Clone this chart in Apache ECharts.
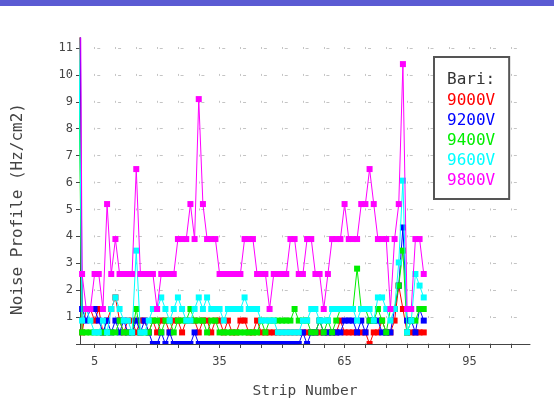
<!DOCTYPE html>
<html>
<head>
<meta charset="utf-8">
<script src="https://cdn.jsdelivr.net/npm/echarts@6/dist/echarts.min.js"></script>
<style>
  html, body { margin: 0; padding: 0; background: #ffffff; }
  #chart { width: 554px; height: 403px; }
</style>
</head>
<body>
<div id="chart"></div>
<script>
// Strip numbers along the detector
const strips = Array.from({ length: 84 }, (_, i) => i + 1);

// Noise rate per strip (Hz/cm2) for each high-voltage setting
const v9000 = [20, 0.43, 1.3, 1.3, 0.87, 1.3, 0.43, 0.87, 1.3, 1.73,
  0.87, 0.43, 0.87, 0.87, 0.43, 0.87, 0.87, 0.43, 0.87, 0.43,
  0.87, 0.87, 0.43, 0.87, 0.87, 0.43, 0.87, 0.87, 0.87, 0.43,
  0.87, 0.87, 0.43, 0.87, 0.87, 0.43, 0.87, 0.43, 0.43, 0.87,
  0.87, 0.43, 0.43, 0.87, 0.43, 0.43, 0.43, 0.43, 0.43, 0.43,
  0.43, 0.43, 0.43, 0.43, 0.43, 0.43, 0.43, 0.43, 0.43, 0.43,
  0.43, 0.43, 0.43, 0.87, 0.43, 0.43, 0.43, 0.43, 0.43, 0.43,
  0, 0.43, 0.43, 0.87, 0.43, 0.43, 0.87, 2.17, 1.3, 0.43,
  0.43, 0.43, 0.43, 0.43];

const v9200 = [26, 1.3, 0.87, 1.3, 1.3, 0.87, 0.43, 0.87, 0.43, 0.87,
  0.43, 0.87, 0.43, 0.43, 0.87, 0.43, 0.87, 0.43, 0, 0,
  0.43, 0, 0.43, 0, 0, 0, 0, 0, 0.43, 0,
  0, 0, 0, 0, 0, 0, 0, 0, 0, 0,
  0, 0, 0, 0, 0, 0, 0, 0, 0, 0,
  0, 0, 0, 0, 0.43, 0, 0.43, 0.43, 0.87, 0.43,
  0.43, 0.43, 0.43, 0.43, 0.87, 0.87, 0.87, 0.43, 0.87, 0.43,
  0.87, 0.87, 0.87, 0.43, 0.43, 0.43, 1.3, 2.17, 4.33, 0.87,
  0.87, 0.43, 1.3, 0.87];

const v9400 = [12.6, 0.43, 0.43, 0.43, 0.43, 0.43, 0.43, 0.43, 0.43, 0.43,
  0.87, 0.43, 0.43, 0.43, 1.3, 0.43, 0.43, 0.43, 0.87, 0.87,
  0.43, 0.87, 0.87, 0.43, 0.87, 0.87, 0.87, 1.3, 0.87, 0.87,
  0.87, 0.43, 0.87, 0.87, 0.43, 0.43, 0.43, 0.43, 0.43, 0.43,
  0.43, 0.43, 0.43, 0.43, 0.87, 0.43, 0.87, 0.87, 0.87, 0.87,
  0.87, 0.87, 1.3, 0.87, 0.87, 0.87, 0.43, 0.43, 0.87, 0.43,
  0.87, 0.43, 0.87, 1.3, 1.3, 1.3, 1.3, 2.8, 1.3, 1.3,
  0.87, 0.87, 1.3, 0.87, 0.43, 1.3, 1.3, 2.17, 3.47, 0.43,
  0.87, 0.87, 1.3, 1.3];

const v9600 = [14.3, 0.87, 1.3, 0.87, 0.43, 0.43, 0.87, 0.43, 1.3, 1.73,
  1.3, 0.87, 0.87, 0.43, 3.47, 0.43, 0.43, 0.87, 1.3, 1.3,
  1.73, 1.3, 0.87, 1.3, 1.73, 1.3, 0.87, 0.87, 1.3, 1.73,
  1.3, 1.73, 1.3, 1.3, 1.3, 0.87, 1.3, 1.3, 1.3, 1.3,
  1.73, 1.3, 1.3, 1.3, 0.87, 0.87, 0.87, 0.87, 0.43, 0.43,
  0.43, 0.43, 0.43, 0.43, 0.87, 0.87, 1.3, 1.3, 0.87, 0.87,
  0.87, 1.3, 1.3, 1.3, 1.3, 1.3, 1.3, 0.87, 1.3, 1.3,
  1.3, 0.87, 1.73, 1.73, 1.3, 0.87, 1.3, 3.03, 6.07, 0.43,
  0.87, 2.6, 2.17, 1.73];

const v9800 = [30, 2.6, 1.3, 1.3, 2.6, 2.6, 1.3, 5.2, 2.6, 3.9,
  2.6, 2.6, 2.6, 2.6, 6.5, 2.6, 2.6, 2.6, 2.6, 1.3,
  2.6, 2.6, 2.6, 2.6, 3.9, 3.9, 3.9, 5.2, 3.9, 9.1,
  5.2, 3.9, 3.9, 3.9, 2.6, 2.6, 2.6, 2.6, 2.6, 2.6,
  3.9, 3.9, 3.9, 2.6, 2.6, 2.6, 1.3, 2.6, 2.6, 2.6,
  2.6, 3.9, 3.9, 2.6, 2.6, 3.9, 3.9, 2.6, 2.6, 1.3,
  2.6, 3.9, 3.9, 3.9, 5.2, 3.9, 3.9, 3.9, 5.2, 5.2,
  6.5, 5.2, 3.9, 3.9, 3.9, 1.3, 3.9, 5.2, 10.4, 1.3,
  1.3, 3.9, 3.9, 2.6];

const seriesNames = ['9000V', '9200V', '9400V', '9600V', '9800V'];
const seriesValues = [v9000, v9200, v9400, v9600, v9800];
const seriesColors = ['#ff0000', '#0000ff', '#00ee00', '#00ffff', '#ff00ff'];

// Axis ticks and labels
const xTicks = [5, 10, 15, 20, 25, 30, 35, 40, 45, 50, 55, 60, 65, 70, 75, 80, 85, 90, 95, 100, 105];
const xLabels = [5, 35, 65, 95];
const yTicks = [0, 1, 2, 3, 4, 5, 6, 7, 8, 9, 10, 11];
const yLabels = [1, 2, 3, 4, 5, 6, 7, 8, 9, 10, 11];

const MONO = '"DejaVu Sans Mono", "Liberation Mono", monospace';

const chart = echarts.init(document.getElementById('chart'), null, { renderer: 'canvas' });

// Points sitting on the zero line show only their upper half, as if cut by the plot frame
function pointItem(s, v) {
  if (v === 0) {
    return { value: [s, v], symbolSize: [6, 3], symbolOffset: [0, -1.5] };
  }
  return { value: [s, v] };
}

const series = seriesNames.map((name, k) => ({
  name: name,
  type: 'line',
  data: strips.map((s, i) => pointItem(s, seriesValues[k][i])),
  symbol: 'rect',
  symbolSize: 6,
  showAllSymbol: true,
  clip: true,
  color: seriesColors[k],
  lineStyle: { width: 1, color: seriesColors[k] },
  itemStyle: { color: seriesColors[k] },
  emphasis: { disabled: true },
  z: 2 + k
}));

chart.setOption({
  animation: false,
  backgroundColor: '#ffffff',
  grid: { left: 80, right: 24, top: 38, bottom: 59, containLabel: false, outerBoundsMode: 'none' },
  xAxis: {
    type: 'value',
    min: 1.5,
    max: 109.5,
    name: 'Strip Number',
    nameLocation: 'middle',
    nameGap: 40,
    nameTextStyle: { fontFamily: MONO, fontSize: 14.5, color: '#444' },
    axisLine: { show: true, lineStyle: { color: '#444', width: 1 } },
    axisTick: { show: true, length: 4, customValues: xTicks, lineStyle: { color: '#444' } },
    axisLabel: { customValues: xLabels, margin: 12, fontFamily: MONO, fontSize: 12, color: '#444' },
    splitLine: {
      show: true,
      lineStyle: { color: '#c4c4c4', width: 1, type: [2, 24.91], dashOffset: 17.91 }
    }
  },
  yAxis: {
    type: 'value',
    min: 0,
    max: 11.37,
    name: 'Noise Profile (Hz/cm2)',
    nameLocation: 'middle',
    nameGap: 54,
    nameTextStyle: { fontFamily: MONO, fontSize: 16, color: '#444', padding: [0, 36, 0, 0] },
    axisLine: { show: true, lineStyle: { color: '#444', width: 1 } },
    axisTick: { show: true, length: 4, customValues: yTicks, lineStyle: { color: '#444' } },
    axisLabel: { customValues: yLabels, margin: 7, fontFamily: MONO, fontSize: 12, color: '#444' },
    splitLine: {
      show: true,
      lineStyle: { color: '#c4c4c4', width: 1, type: [3, 17.83], dashOffset: 3.58 }
    }
  },
  legend: {
    orient: 'vertical',
    left: 434,
    top: 57,
    padding: [34, 14, 8, 8],
    itemGap: 0,
    itemWidth: 0,
    itemHeight: 0,
    selectedMode: false,
    borderColor: '#555',
    borderWidth: 2,
    backgroundColor: '#ffffff',
    textStyle: { fontFamily: MONO, fontSize: 16, lineHeight: 20 },
    data: seriesNames.map((n, k) => ({ name: n, icon: 'rect', textStyle: { color: seriesColors[k] } }))
  },
  graphic: [
    { type: 'rect', left: 0, top: 0, z: 100, shape: { width: 554, height: 6 }, style: { fill: '#5b5bd3' }, silent: true },
    { type: 'text', left: 447, top: 72, z: 100, style: { text: 'Bari:', fontFamily: MONO, fontSize: 16, fill: '#333' }, silent: true }
  ],
  series: series
});
</script>
</body>
</html>
